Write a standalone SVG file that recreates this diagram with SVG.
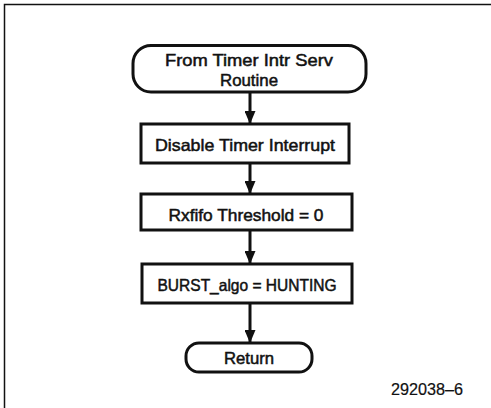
<svg xmlns="http://www.w3.org/2000/svg" width="491" height="408" viewBox="0 0 491 408">
<defs>
<style>
.frame{fill:none;stroke:#111;stroke-width:1.5}
.shape{fill:#fff;stroke:#111;stroke-width:3}
.conn{fill:none;stroke:#111;stroke-width:3}
text{font-family:"Liberation Sans",Arial,sans-serif;font-size:16.5px;fill:#111;stroke:#111;stroke-width:0.5;text-anchor:middle}
.ref{font-size:16px;stroke-width:0.2}
</style>
<marker id="ah" markerWidth="13" markerHeight="11" refX="13" refY="5.5" orient="auto" markerUnits="userSpaceOnUse">
<path d="M0,0 L13,5.5 L0,11 Z" fill="#111"/>
</marker>
</defs>
<rect width="491" height="408" fill="#fff"/>
<path class="frame" d="M4.5,408 V4.5 H491"/>
<g id="connectors">
<line class="conn" x1="250" y1="92" x2="250" y2="124" marker-end="url(#ah)"/>
<line class="conn" x1="250" y1="163" x2="250" y2="194" marker-end="url(#ah)"/>
<line class="conn" x1="250" y1="230" x2="250" y2="264" marker-end="url(#ah)"/>
<line class="conn" x1="250" y1="303" x2="250" y2="343" marker-end="url(#ah)"/>
</g>
<g id="start">
<rect class="shape" x="133" y="45.5" width="233" height="46.5" rx="18" ry="18"/>
<text x="249" y="66" textLength="168" lengthAdjust="spacingAndGlyphs">From Timer Intr Serv</text>
<text x="249" y="86" textLength="58" lengthAdjust="spacingAndGlyphs">Routine</text>
</g>
<g id="disable">
<rect class="shape" x="141" y="124" width="208" height="39"/>
<text x="245" y="151" textLength="180" lengthAdjust="spacingAndGlyphs">Disable Timer Interrupt</text>
</g>
<g id="threshold">
<rect class="shape" x="141" y="194" width="211" height="36"/>
<text x="246" y="221" textLength="155" lengthAdjust="spacingAndGlyphs">Rxfifo Threshold = 0</text>
</g>
<g id="burst">
<rect class="shape" x="142" y="264" width="210" height="39"/>
<text x="247" y="291" textLength="179" lengthAdjust="spacingAndGlyphs">BURST_algo = HUNTING</text>
</g>
<g id="return">
<rect class="shape" x="186" y="343" width="126" height="29" rx="13" ry="13"/>
<text x="249" y="364" textLength="50" lengthAdjust="spacingAndGlyphs">Return</text>
</g>
<text class="ref" x="427" y="395" textLength="72" lengthAdjust="spacingAndGlyphs">292038–6</text>
</svg>
